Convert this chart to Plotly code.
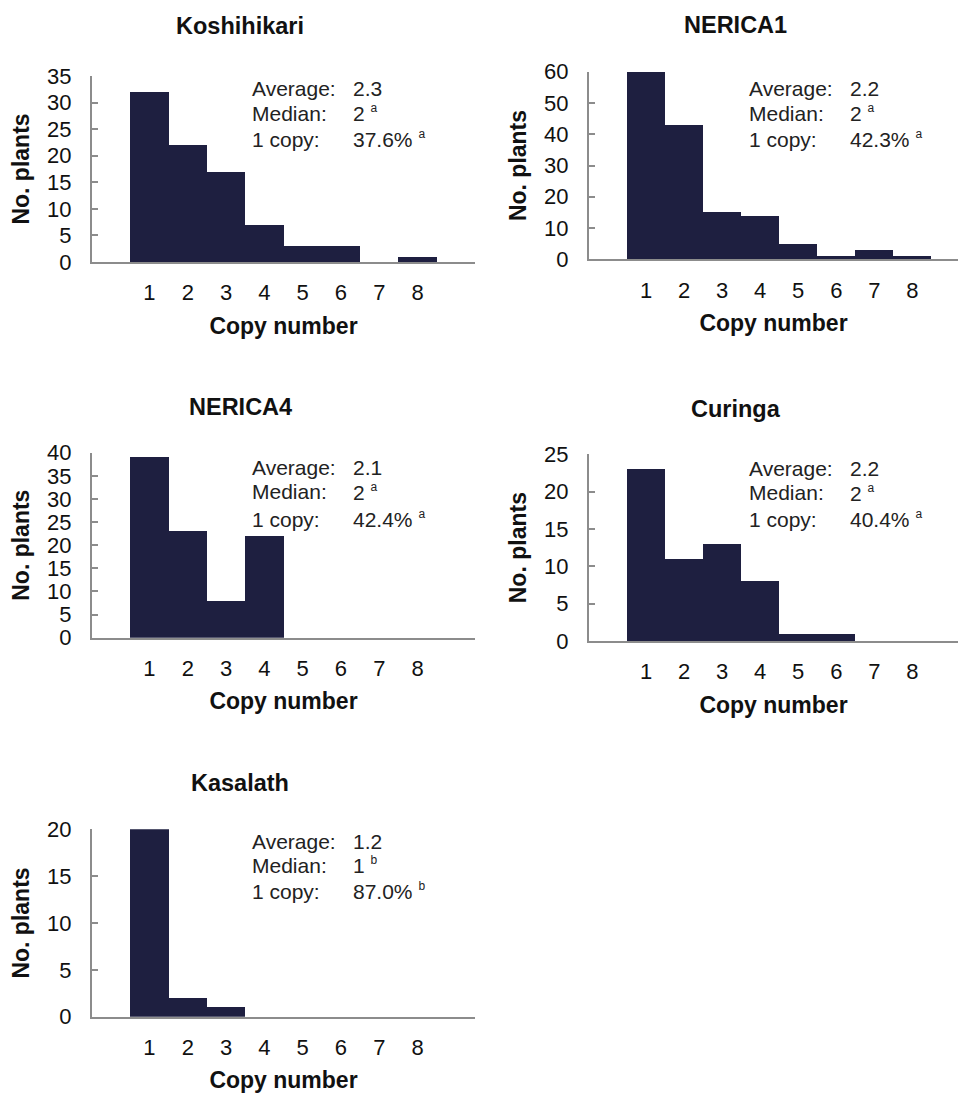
import plotly.graph_objects as go

# ---------------- data ----------------
varieties = ["Koshihikari", "NERICA1", "NERICA4", "Curinga", "Kasalath"]
copy_numbers = [1, 2, 3, 4, 5, 6, 7, 8]
koshihikari = [32, 22, 17, 7, 3, 3, 0, 1]
nerica1 = [60, 43, 15, 14, 5, 1, 3, 1]
nerica4 = [39, 23, 8, 22, 0, 0, 0, 0]
curinga = [23, 11, 13, 8, 1, 1, 0, 0]
kasalath = [20, 2, 1, 0, 0, 0, 0, 0]
series = [koshihikari, nerica1, nerica4, curinga, kasalath]

averages = ["2.3", "2.2", "2.1", "2.2", "1.2"]
medians = ["2", "2", "2", "2", "1"]
median_sig = ["a", "a", "a", "a", "b"]
one_copy = ["37.6%", "42.3%", "42.4%", "40.4%", "87.0%"]
one_copy_sig = ["a", "a", "a", "a", "b"]
y_max = [35, 60, 40, 25, 20]
y_dtick = [5, 10, 5, 5, 5]
tick_labels = ["1", "2", "3", "4", "5", "6", "7", "8"]

# ---------------- layout geometry (pixels) ----------------
W, H = 958, 1093
FONT = "Liberation Sans, Arial, sans-serif"
BAR = "#1e1f40"
AXIS = "#8c8c8c"

def px(x):
    return x / W

def py(y):
    return 1 - y / H

# (axis left, axis right, plot top, plot bottom)
boxes = [
    (92, 475, 76, 262),
    (589, 958, 71.7, 259.3),
    (92, 475, 452.7, 637.7),
    (589, 958, 454.3, 641),
    (92, 475, 829.3, 1016.7),
]
x_ranges = [[-0.5, 9.5], [-0.5, 9.2], [-0.5, 9.5], [-0.5, 9.2], [-0.5, 9.5]]
title_pos = [(240, 26), (735, 25), (240, 407), (736, 409), (240, 783)]
stat_label_x = [250, 747, 250, 747, 250]
stat_value_x = [351, 848, 351, 848, 351]
stat_row_y = [(89, 113, 139), (89, 113, 139), (467, 492, 519), (468, 493, 519), (841, 865, 891)]


def sig(letter):
    return f"<sup><span style='font-size:12px'>{letter}</span></sup>"


fig = go.Figure()
annotations = []
layout_axes = {}

for i, vals in enumerate(series):
    n = i + 1
    xa = "x" if n == 1 else f"x{n}"
    ya = "y" if n == 1 else f"y{n}"
    fig.add_trace(go.Bar(
        x=copy_numbers, y=vals, width=1,
        marker=dict(color=BAR, line=dict(width=0)),
        xaxis=xa, yaxis=ya, showlegend=False,
    ))
    l, r, t, b = boxes[i]
    layout_axes[f"xaxis{n}"] = dict(
        domain=[px(l), px(r)], anchor=ya, range=x_ranges[i],
        tickmode="array", tickvals=copy_numbers, ticktext=tick_labels,
        showline=True, linecolor=AXIS, linewidth=2, ticks="",
        showgrid=False, zeroline=False, automargin=False,
        tickfont=dict(family=FONT, size=22, color="#111"),
        ticklabelstandoff=10,
        title=dict(text="<b>Copy number</b>", font=dict(family=FONT, size=23, color="#111"), standoff=13),
    )
    layout_axes[f"yaxis{n}"] = dict(
        domain=[py(b), py(t)], anchor=xa, range=[0, y_max[i]],
        dtick=y_dtick[i], tick0=0,
        showline=True, linecolor=AXIS, linewidth=2,
        ticks="inside", ticklen=6, tickwidth=2, tickcolor=AXIS,
        showgrid=False, zeroline=False, automargin=False,
        tickfont=dict(family=FONT, size=22, color="#111"),
        ticklabelstandoff=14,
        title=dict(text="<b>No. plants</b>", font=dict(family=FONT, size=23, color="#111"), standoff=11),
    )
    tx, ty = title_pos[i]
    annotations.append(dict(
        text=f"<b>{varieties[i]}</b>", x=px(tx), y=py(ty), xref="paper", yref="paper",
        xanchor="center", yanchor="middle", showarrow=False,
        font=dict(family=FONT, size=23.5, color="#111"),
    ))
    labels = ["Average:", "Median:", "1 copy:"]
    values = [averages[i], f"{medians[i]} {sig(median_sig[i])}", f"{one_copy[i]} {sig(one_copy_sig[i])}"]
    for lab, val, ry in zip(labels, values, stat_row_y[i]):
        annotations.append(dict(
            text=lab, x=px(stat_label_x[i]), y=py(ry), xref="paper", yref="paper",
            xanchor="left", yanchor="middle", showarrow=False,
            font=dict(family=FONT, size=21, color="#222"),
        ))
        annotations.append(dict(
            text=val, x=px(stat_value_x[i]), y=py(ry), xref="paper", yref="paper",
            xanchor="left", yanchor="middle", showarrow=False,
            font=dict(family=FONT, size=21, color="#222"),
        ))

fig.update_layout(
    width=W, height=H,
    margin=dict(l=0, r=0, t=0, b=0, autoexpand=False),
    paper_bgcolor="white", plot_bgcolor="white",
    bargap=0,
    annotations=annotations,
    **layout_axes,
)

fig.write_html(
    "out.html",
    config={"displayModeBar": False, "staticPlot": True},
    post_script="document.body.style.margin='0px';document.body.style.overflow='hidden';",
)
